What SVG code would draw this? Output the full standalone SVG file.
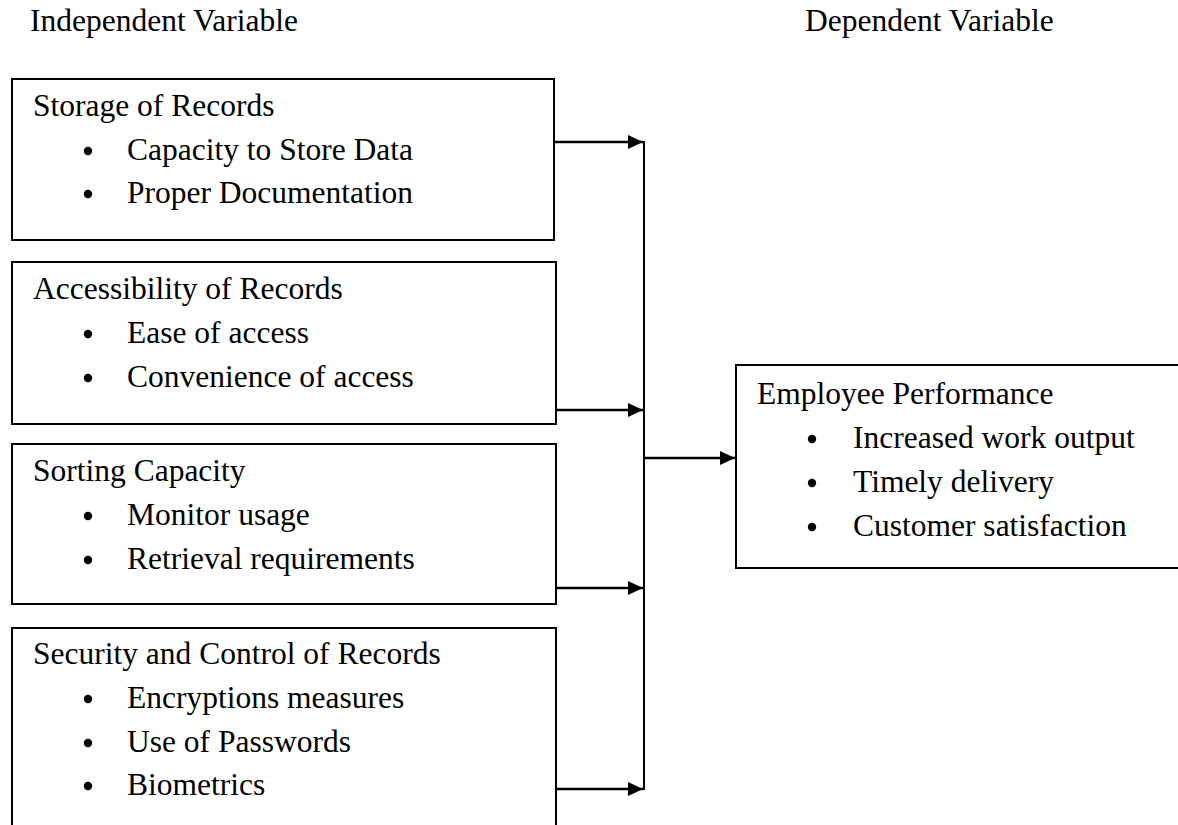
<svg xmlns="http://www.w3.org/2000/svg" width="1178" height="825" viewBox="0 0 1178 825">
  <style>
    .box { fill: #ffffff; stroke: #000000; stroke-width: 2; }
    .txt { font-family: "Liberation Serif", "Times New Roman", serif; font-size: 31.5px; fill: #000000; }
    .bul { fill: #000000; }
    .con { stroke: #000000; stroke-width: 2.6; fill: none; }
    .trunk { stroke: #000000; stroke-width: 2; fill: none; }
  </style>
  <defs>
    <marker id="arrow" viewBox="0 0 15 14" refX="15" refY="7" markerWidth="15" markerHeight="14" markerUnits="userSpaceOnUse" orient="auto">
      <path d="M0,0 L15,7 L0,14 Z" fill="#000000"/>
    </marker>
  </defs>

  <rect width="1178" height="825" fill="#ffffff"/>

  <!-- column headings -->
  <g id="headings">
    <text class="txt" x="30" y="31">Independent Variable</text>
    <text class="txt" x="805" y="31">Dependent Variable</text>
  </g>

  <!-- independent variables -->
  <g id="storage">
    <rect class="box" x="12" y="79" width="542" height="161"/>
    <text class="txt" x="33" y="116">Storage of Records</text>
    <circle class="bul" cx="88" cy="151" r="4.2"/>
    <text class="txt" x="127" y="160">Capacity to Store Data</text>
    <circle class="bul" cx="88" cy="194" r="4.2"/>
    <text class="txt" x="127" y="203">Proper Documentation</text>
  </g>

  <g id="accessibility">
    <rect class="box" x="12" y="262" width="544" height="162"/>
    <text class="txt" x="33" y="299">Accessibility of Records</text>
    <circle class="bul" cx="88" cy="334" r="4.2"/>
    <text class="txt" x="127" y="343">Ease of access</text>
    <circle class="bul" cx="88" cy="378" r="4.2"/>
    <text class="txt" x="127" y="387">Convenience of access</text>
  </g>

  <g id="sorting">
    <rect class="box" x="12" y="444" width="544" height="160"/>
    <text class="txt" x="33" y="481">Sorting Capacity</text>
    <circle class="bul" cx="88" cy="516" r="4.2"/>
    <text class="txt" x="127" y="525">Monitor usage</text>
    <circle class="bul" cx="88" cy="560" r="4.2"/>
    <text class="txt" x="127" y="569">Retrieval requirements</text>
  </g>

  <g id="security">
    <rect class="box" x="12" y="628" width="544" height="230"/>
    <text class="txt" x="33" y="664">Security and Control of Records</text>
    <circle class="bul" cx="88" cy="699" r="4.2"/>
    <text class="txt" x="127" y="708">Encryptions measures</text>
    <circle class="bul" cx="88" cy="743" r="4.2"/>
    <text class="txt" x="127" y="752">Use of Passwords</text>
    <circle class="bul" cx="88" cy="786" r="4.2"/>
    <text class="txt" x="127" y="795">Biometrics</text>
  </g>

  <!-- dependent variable -->
  <g id="performance">
    <rect class="box" x="736" y="365" width="460" height="203"/>
    <text class="txt" x="757" y="404">Employee Performance</text>
    <circle class="bul" cx="812" cy="439" r="4.2"/>
    <text class="txt" x="853" y="448">Increased work output</text>
    <circle class="bul" cx="812" cy="483" r="4.2"/>
    <text class="txt" x="853" y="492">Timely delivery</text>
    <circle class="bul" cx="812" cy="527" r="4.2"/>
    <text class="txt" x="853" y="536">Customer satisfaction</text>
  </g>

  <!-- connectors -->
  <g id="connectors">
    <line class="con" x1="554" y1="142" x2="643" y2="142" marker-end="url(#arrow)"/>
    <line class="con" x1="556" y1="410" x2="643" y2="410" marker-end="url(#arrow)"/>
    <line class="con" x1="556" y1="588" x2="643" y2="588" marker-end="url(#arrow)"/>
    <line class="con" x1="556" y1="789" x2="643" y2="789" marker-end="url(#arrow)"/>
    <line class="trunk" x1="644" y1="141" x2="644" y2="790"/>
    <line class="con" x1="644" y1="458" x2="735" y2="458" marker-end="url(#arrow)"/>
  </g>
</svg>
